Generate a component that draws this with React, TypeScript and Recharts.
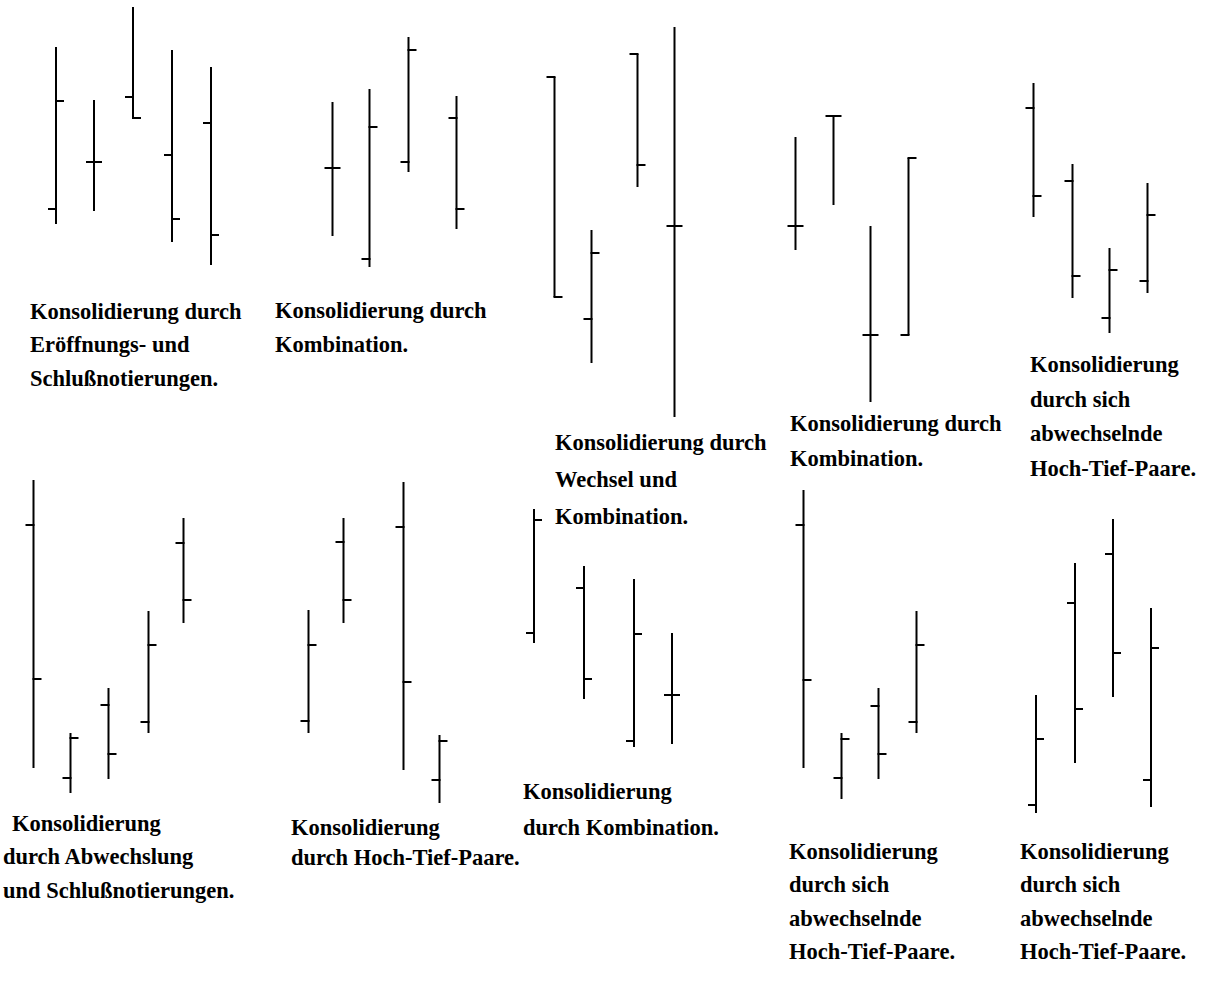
import React from "react";
import { BarChart, Bar, XAxis, YAxis } from "recharts";

// ---------- data (t = bar position in the panel's time units, prices in chart units) ----------
type Ohlc = { t: number; open: number; high: number; low: number; close: number };

const panel1Bars: Ohlc[] = [
  { t: 26, open: 221, high: 383, low: 206, close: 329 },
  { t: 64, open: 268, high: 330, low: 219, close: 268 },
  { t: 103, open: 333, high: 423, low: 312, close: 312 },
  { t: 142, open: 275, high: 380, low: 188, close: 211 },
  { t: 181, open: 307, high: 363, low: 165, close: 195 },
];
const panel2Bars: Ohlc[] = [
  { t: 22, open: 262, high: 328, low: 194, close: 262 },
  { t: 59, open: 171, high: 341, low: 163, close: 303 },
  { t: 98, open: 268, high: 393, low: 258, close: 380 },
  { t: 146, open: 312, high: 334, low: 201, close: 221 },
];
const panel3Bars: Ohlc[] = [
  { t: 24, open: 353, high: 353, low: 133, close: 133 },
  { t: 61, open: 111, high: 200, low: 67, close: 177 },
  { t: 107, open: 376, high: 376, low: 243, close: 265 },
  { t: 144, open: 204, high: 403, low: 13, close: 204 },
];
const panel4Bars: Ohlc[] = [
  { t: 20, open: 204, high: 293, low: 180, close: 204 },
  { t: 58, open: 314, high: 314, low: 225, close: 314 },
  { t: 95, open: 95, high: 204, low: 28, close: 95 },
  { t: 133, open: 95, high: 272, low: 95, close: 272 },
];
const panel5Bars: Ohlc[] = [
  { t: 23, open: 322, high: 347, low: 213, close: 234 },
  { t: 62, open: 249, high: 266, low: 132, close: 154 },
  { t: 99, open: 112, high: 182, low: 97, close: 160 },
  { t: 137, open: 149, high: 247, low: 137, close: 215 },
];
const panel6Bars: Ohlc[] = [
  { t: 23, open: 295, high: 340, low: 52, close: 141 },
  { t: 60, open: 42, high: 87, low: 27, close: 82 },
  { t: 98, open: 115, high: 132, low: 41, close: 66 },
  { t: 138, open: 98, high: 209, low: 87, close: 175 },
  { t: 173, open: 277, high: 302, low: 197, close: 220 },
];
const panel7Bars: Ohlc[] = [
  { t: 23, open: 99, high: 210, low: 87, close: 175 },
  { t: 58, open: 278, high: 302, low: 197, close: 220 },
  { t: 118, open: 293, high: 338, low: 50, close: 138 },
  { t: 154, open: 40, high: 85, low: 17, close: 79 },
];
const panel8Bars: Ohlc[] = [
  { t: 24, open: 187, high: 311, low: 177, close: 300 },
  { t: 74, open: 232, high: 254, low: 121, close: 141 },
  { t: 124, open: 79, high: 241, low: 73, close: 186 },
  { t: 162, open: 125, high: 187, low: 76, close: 125 },
];
const panel9Bars: Ohlc[] = [
  { t: 23, open: 295, high: 330, low: 52, close: 140 },
  { t: 61, open: 42, high: 87, low: 21, close: 81 },
  { t: 98, open: 114, high: 132, low: 41, close: 66 },
  { t: 136, open: 98, high: 209, low: 87, close: 175 },
];
const panel10Bars: Ohlc[] = [
  { t: 26, open: 15, high: 125, low: 7, close: 81 },
  { t: 65, open: 217, high: 257, low: 57, close: 111 },
  { t: 103, open: 266, high: 301, low: 123, close: 167 },
  { t: 141, open: 40, high: 212, low: 13, close: 172 },
];

const caption1 = ["Konsolidierung durch", "Eröffnungs- und", "Schlußnotierungen."];
const caption2 = ["Konsolidierung durch", "Kombination."];
const caption3 = ["Konsolidierung durch", "Wechsel und", "Kombination."];
const caption4 = ["Konsolidierung durch", "Kombination."];
const caption5 = ["Konsolidierung", "durch sich", "abwechselnde", "Hoch-Tief-Paare."];
const caption6 = ["Konsolidierung", "durch Abwechslung", "und Schlußnotierungen."];
const caption7 = ["Konsolidierung", "durch Hoch-Tief-Paare."];
const caption8 = ["Konsolidierung", "durch Kombination."];
const caption9 = ["Konsolidierung", "durch sich", "abwechselnde", "Hoch-Tief-Paare."];
const caption10 = ["Konsolidierung", "durch sich", "abwechselnde", "Hoch-Tief-Paare."];

// ---------- layout ----------
const TOP_ROW = { top: 0, height: 430 };
const BOTTOM_ROW = { top: 470, height: 350 };
const FONT_SIZE = 22.5;
const TICK = 8;

const panels = [
  { bars: panel1Bars, left: 30, width: 200, row: TOP_ROW },
  { bars: panel2Bars, left: 310, width: 170, row: TOP_ROW },
  { bars: panel3Bars, left: 530, width: 170, row: TOP_ROW },
  { bars: panel4Bars, left: 775, width: 150, row: TOP_ROW },
  { bars: panel5Bars, left: 1010, width: 160, row: TOP_ROW },
  { bars: panel6Bars, left: 10, width: 190, row: BOTTOM_ROW },
  { bars: panel7Bars, left: 285, width: 170, row: BOTTOM_ROW },
  { bars: panel8Bars, left: 510, width: 180, row: BOTTOM_ROW },
  { bars: panel9Bars, left: 780, width: 160, row: BOTTOM_ROW },
  { bars: panel10Bars, left: 1010, width: 160, row: BOTTOM_ROW },
];

const captions = [
  { lines: caption1, left: 30, baseline: 319, lh: 33.5, indents: [0, 0, 0] },
  { lines: caption2, left: 275, baseline: 319, lh: 34, indents: [0, 0] },
  { lines: caption3, left: 555, baseline: 450, lh: 37, indents: [0, 0, 0] },
  { lines: caption4, left: 790, baseline: 431, lh: 35, indents: [0, 0] },
  { lines: caption5, left: 1030, baseline: 373, lh: 34.5, indents: [0, 0, 0, 0] },
  { lines: caption6, left: 3, baseline: 831, lh: 33.5, indents: [9, 0, 0] },
  { lines: caption7, left: 291, baseline: 836, lh: 30, indents: [0, 0] },
  { lines: caption8, left: 523, baseline: 800, lh: 36, indents: [0, 0] },
  { lines: caption9, left: 789, baseline: 859, lh: 33.5, indents: [0, 0, 0, 0] },
  { lines: caption10, left: 1020, baseline: 859, lh: 33.5, indents: [0, 0, 0, 0] },
];

const OhlcShape = (props: any) => {
  const { x, y, width, height, payload } = props;
  if (!payload || height == null || x == null) return null;
  const { high, low, open, close } = payload as Ohlc;
  const cx = x + width / 2;
  const span = high - low || 1;
  const py = (v: number) => y + ((high - v) / span) * height;
  return (
    <g stroke="#000" strokeWidth={2} fill="none">
      <line x1={cx} x2={cx} y1={py(high)} y2={py(low)} />
      <line x1={cx - TICK} x2={cx + 1} y1={py(open)} y2={py(open)} />
      <line x1={cx - 1} x2={cx + TICK} y1={py(close)} y2={py(close)} />
    </g>
  );
};

const Panel = ({ bars, left, width, row }: any) => (
  <div style={{ position: "absolute", left, top: row.top, width, height: row.height }}>
    <BarChart width={width} height={row.height} data={bars} margin={{ top: 0, right: 0, bottom: 0, left: 0 }}>
      <XAxis hide type="number" dataKey="t" domain={[0, width]} allowDataOverflow />
      <YAxis hide type="number" domain={[0, row.height]} allowDataOverflow />
      <Bar
        dataKey={(d: Ohlc) => [d.low, d.high]}
        barSize={16}
        shape={OhlcShape}
        isAnimationActive={false}
      />
    </BarChart>
  </div>
);

const textStyle: React.CSSProperties = {
  fontFamily: '"Liberation Serif", "Times New Roman", serif',
  fontWeight: "bold",
  fontSize: FONT_SIZE,
  color: "#000",
  whiteSpace: "nowrap",
};

// baseline offset within a line box for Liberation Serif (ascent .891, descent .216)
const baseOffset = (lh: number) => (lh - 1.107 * FONT_SIZE) / 2 + 0.891 * FONT_SIZE;

const Caption = ({ lines, left, baseline, lh, indents }: any) => (
  <div style={{ ...textStyle, position: "absolute", left, top: baseline - baseOffset(lh), lineHeight: `${lh}px` }}>
    {lines.map((l: string, i: number) => (
      <div key={i} style={{ marginLeft: indents[i] || 0 }}>
        {l}
      </div>
    ))}
  </div>
);

export default function App() {
  return (
    <div style={{ position: "absolute", left: 0, top: 0, width: 1209, height: 994, background: "#fff", overflow: "hidden" }}>
      {panels.map((p, i) => (
        <Panel key={i} {...p} />
      ))}
      {captions.map((c, i) => (
        <Caption key={i} {...c} />
      ))}
    </div>
  );
}
